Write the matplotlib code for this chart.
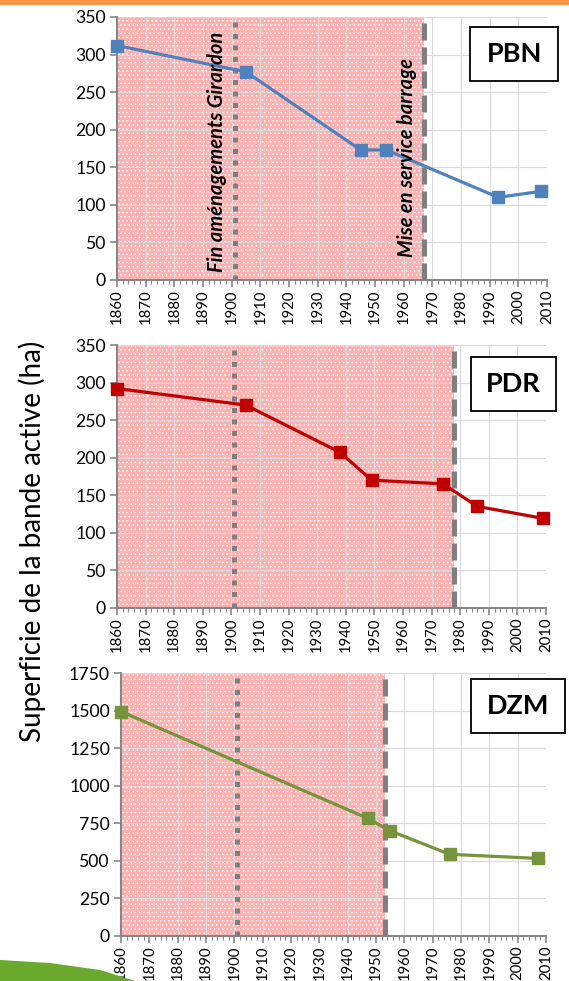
import matplotlib
matplotlib.use("Agg")
import matplotlib.pyplot as plt
from matplotlib.patches import Rectangle, Polygon
from matplotlib.ticker import MultipleLocator

# data
pbn_years = [1860, 1905, 1945, 1954, 1993, 2008]
pbn_vals = [312, 277, 173, 173, 110, 118]
pdr_years = [1860, 1905, 1938, 1949, 1974, 1986, 2009]
pdr_vals = [292, 270, 207, 170, 165, 135, 119]
dzm_years = [1860, 1947, 1955, 1976, 2007]
dzm_vals = [1495, 784, 700, 544, 517]

girardon_year = 1901
dam_years = [1967, 1978, 1953]
site_names = ["PBN", "PDR", "DZM"]
site_colors = ["#4f81bd", "#c00000", "#77933c"]
y_max = [350, 350, 1750]
y_step = [50, 50, 250]

plt.rcParams["font.family"] = ["Lato", "DejaVu Sans"]
plt.rcParams["hatch.linewidth"] = 0.6
plt.rcParams["hatch.color"] = "white"

fig = plt.figure(figsize=(5.69, 9.81), dpi=100)

# axes rectangles (figure fraction)
rects = [
    (0.2056, 0.7146, 0.7557, 0.2681),
    (0.2056, 0.3805, 0.7540, 0.2678),
    (0.2127, 0.0459, 0.7470, 0.2678),
]
boxes = [
    (0.821, 0.757, 0.205, 0.205),
    (0.824, 0.750, 0.200, 0.206),
    (0.823, 0.773, 0.222, 0.206),
]

series = [(pbn_years, pbn_vals), (pdr_years, pdr_vals), (dzm_years, dzm_vals)]

for i, rect in enumerate(rects):
    ax = fig.add_axes(rect)
    years, vals = series[i]

    ax.set_xlim(1860, 2010)
    ax.set_ylim(0, y_max[i])

    # shaded period before dam
    ax.axvspan(1860, dam_years[i], facecolor="#ffb0b0", edgecolor="white",
               hatch="....", linewidth=0, zorder=0)

    ax.grid(True, color="#d9d9d9", linewidth=0.8, zorder=1)
    ax.set_axisbelow(True)

    ax.axvline(girardon_year, color="#7f7f7f", linewidth=3.6,
               linestyle=(0, (1, 1.3)), zorder=3)
    ax.axvline(dam_years[i], color="#7f7f7f", linewidth=3.6,
               linestyle=(0, (3.4, 1.4)), zorder=3)

    ax.plot(years, vals, color=site_colors[i], linewidth=2.3, marker="s",
            markersize=8.5, zorder=4, clip_on=False)

    ax.set_xticks(range(1860, 2011, 10))
    ax.xaxis.set_minor_locator(MultipleLocator(2))
    ax.yaxis.set_major_locator(MultipleLocator(y_step[i]))
    ax.tick_params(axis="x", labelrotation=90, labelsize=10.7, length=5,
                   width=1.2, color="#868686", pad=2)
    ax.tick_params(axis="x", which="minor", length=3, width=0.8, color="#868686")
    ax.tick_params(axis="y", labelsize=12.7, length=5, width=1.2,
                   color="#868686", pad=3)

    for side in ["top", "right"]:
        ax.spines[side].set_visible(False)
    for side in ["left", "bottom"]:
        ax.spines[side].set_color("#868686")
        ax.spines[side].set_linewidth(1.5)

    bx, by, bw, bh = boxes[i]
    ax.add_patch(Rectangle((bx, by), bw, bh, transform=ax.transAxes,
                           facecolor="white", edgecolor="black",
                           linewidth=1.3, clip_on=False, zorder=6))
    ax.text(bx + bw / 2, by + bh / 2, site_names[i], transform=ax.transAxes,
            ha="center", va="center", fontsize=19.5, fontweight="bold", zorder=7)

    if i == 0:
        ax.text(girardon_year - 2.5, 10, "Fin aménagements Girardon", rotation=90,
                ha="right", va="bottom", fontsize=14.5, fontweight="bold",
                fontstyle="italic", zorder=5)
        ax.text(dam_years[i] - 2.5, 30, "Mise en service barrage", rotation=90,
                ha="right", va="bottom", fontsize=14.5, fontweight="bold",
                fontstyle="italic", zorder=5)

fig.text(0.056, 0.4485, "Superficie de la bande active (ha)", rotation=90,
         ha="center", va="center", fontsize=20)

# slide decorations: orange top bar and green swoosh
fig.patches.append(Rectangle((0, 1 - 5 / 981), 1, 5 / 981, transform=fig.transFigure,
                             facecolor="#f79646", edgecolor="none"))
fig.patches.append(Polygon([(0, 1 - 960 / 981), (50 / 569, 1 - 963 / 981),
                            (100 / 569, 1 - 970 / 981), (135 / 569, 0), (0, 0)],
                           closed=True, transform=fig.transFigure,
                           facecolor="#6aa82e", edgecolor="none"))

fig.savefig("out.png", dpi=100)
